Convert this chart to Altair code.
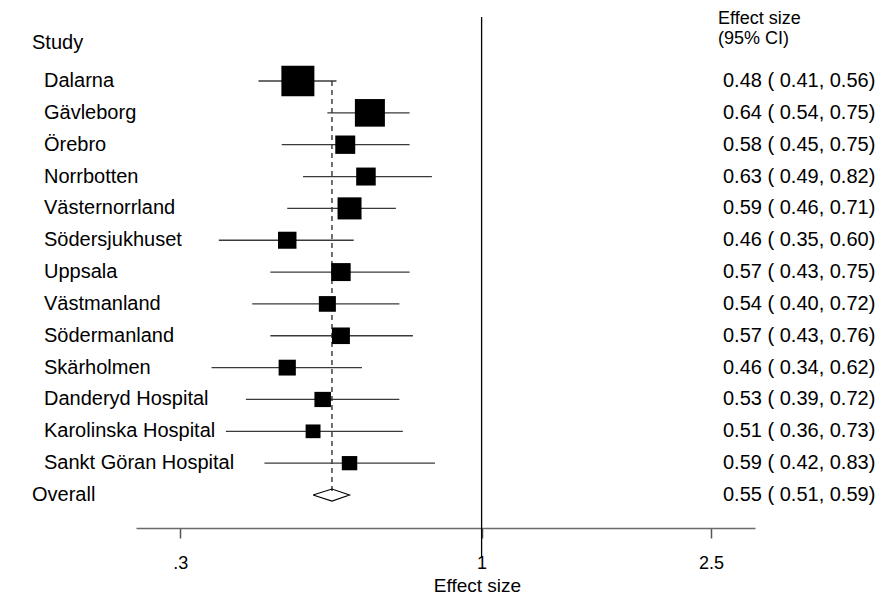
import altair as alt
import pandas as pd

# ---- data ----
studies = ["Dalarna", "Gävleborg", "Örebro", "Norrbotten", "Västernorrland",
           "Södersjukhuset", "Uppsala", "Västmanland", "Södermanland",
           "Skärholmen", "Danderyd Hospital", "Karolinska Hospital",
           "Sankt Göran Hospital"]
est = [0.48, 0.64, 0.58, 0.63, 0.59, 0.46, 0.57, 0.54, 0.57, 0.46, 0.53, 0.51, 0.59]
lo = [0.41, 0.54, 0.45, 0.49, 0.46, 0.35, 0.43, 0.40, 0.43, 0.34, 0.39, 0.36, 0.42]
hi = [0.56, 0.75, 0.75, 0.82, 0.71, 0.60, 0.75, 0.72, 0.76, 0.62, 0.72, 0.73, 0.83]
weights = [19.1, 15.8, 7.0, 6.7, 10.1, 6.0, 6.7, 5.1, 5.7, 5.2, 4.8, 3.9, 4.2]
overall_label = "Overall"
overall_est, overall_lo, overall_hi = 0.55, 0.51, 0.59
tick_values = [0.3, 1, 2.5]
tick_labels = [".3", "1", "2.5"]
null_value = [1]
header_left = "Study"
header_right = ["Effect size", "(95% CI)"]

FONT = "Liberation Sans"
n = len(studies)
rows = list(range(1, n + 1))
overall_row = n + 1

df = pd.DataFrame({"study": studies, "est": est, "lo": lo, "hi": hi,
                   "w": weights, "row": rows})
df["ci"] = [f"{e:.2f} ( {l:.2f}, {h:.2f})" for e, l, h in zip(est, lo, hi)]

ov = pd.DataFrame({"study": [overall_label], "est": [overall_est],
                   "lo": [overall_lo], "hi": [overall_hi], "row": [overall_row]})
ov["ci"] = [f"{overall_est:.2f} ( {overall_lo:.2f}, {overall_hi:.2f})"]

half_h = 0.19
diamond = pd.DataFrame({
    "x": [overall_lo, overall_est, overall_hi, overall_est, overall_lo],
    "row": [overall_row, overall_row - half_h, overall_row, overall_row + half_h, overall_row],
    "o": [0, 1, 2, 3, 4],
})

dash = pd.DataFrame({"x": [overall_est], "r1": [1], "r2": [overall_row]})
null_df = pd.DataFrame({"x": null_value})

label_expr = " : ".join(
    f"datum.value == {v} ? '{t}'" for v, t in zip(tick_values, tick_labels)
) + " : ''"

xscale = alt.Scale(type="log", domain=[0.2514, 2.981], nice=False)
yscale = alt.Scale(domain=[-1.2923, 15.036], reverse=True, nice=False, zero=False)

xaxis = alt.Axis(values=tick_values, labelExpr=label_expr, tickSize=10,
                 tickColor="#555", tickWidth=1.5, domainColor="#6a6a6a",
                 domainWidth=1.6, labelFontSize=18, labelColor="black",
                 labelFont=FONT, labelPadding=16, labelFlush=False,
                 title="Effect size", titleFont=FONT, titleFontSize=19,
                 titleFontWeight="normal", titleColor="black",
                 titleBaseline="alphabetic", titleY=63, titleX=341,
                 titleAlign="center", grid=False)

X = lambda f: alt.X(f, type="quantitative", scale=xscale, axis=xaxis)
Y = lambda f: alt.Y(f, type="quantitative", scale=yscale, axis=None)

null_line = alt.Chart(null_df).mark_rule(color="black", strokeWidth=1.3).encode(
    x=X("x"), y=alt.value(9), y2=alt.value(549))

ci_lines = alt.Chart(df).mark_rule(color="#3a3a3a", strokeWidth=1.3).encode(
    x=X("lo"), x2="hi", y=Y("row"))

dash_line = alt.Chart(dash).mark_rule(color="#333", strokeWidth=1.4,
                                      strokeDash=[5, 4]).encode(
    x=X("x"), y=Y("r1"), y2="r2")

squares = alt.Chart(df).mark_point(
    filled=True, opacity=1, color="black", strokeWidth=0,
    shape="M-1,-0.92L1,-0.92L1,0.92L-1,0.92Z").encode(
    x=X("est"), y=Y("row"),
    size=alt.Size("w", type="quantitative",
                  scale=alt.Scale(domain=[0, 20], range=[0, 1140]), legend=None))

diamond_line = alt.Chart(diamond).mark_line(color="black", strokeWidth=1.1).encode(
    x=X("x"), y=Y("row"), order="o")

text_common = dict(font=FONT, fontSize=20, color="black", baseline="middle", align="left")

study_text = alt.Chart(df).mark_text(**text_common).encode(
    x=alt.value(-92), y=Y("row"), text="study")
overall_text = alt.Chart(ov).mark_text(**text_common).encode(
    x=alt.value(-104), y=Y("row"), text="study")
ci_text = alt.Chart(df).mark_text(**text_common).encode(
    x=alt.value(587), y=Y("row"), text="ci")
ov_ci_text = alt.Chart(ov).mark_text(**text_common).encode(
    x=alt.value(587), y=Y("row"), text="ci")

study_hdr = alt.Chart(pd.DataFrame({"t": [header_left]})).mark_text(**text_common).encode(
    x=alt.value(-104), y=alt.value(35), text="t")

hdr_style = dict(font=FONT, fontSize=18, color="black", baseline="middle", align="left")
es_hdr1 = alt.Chart(pd.DataFrame({"t": [header_right[0]]})).mark_text(**hdr_style).encode(
    x=alt.value(582), y=alt.value(11), text="t")
es_hdr2 = alt.Chart(pd.DataFrame({"t": [header_right[1]]})).mark_text(**hdr_style).encode(
    x=alt.value(582), y=alt.value(31), text="t")

chart = alt.layer(
    null_line, ci_lines, dash_line, squares, diamond_line,
    study_text, overall_text, ci_text, ov_ci_text, study_hdr, es_hdr1, es_hdr2
).properties(
    width=619, height=520, autosize="none",
    padding={"left": 128, "top": 0, "right": 122, "bottom": 68},
    background="white",
).configure_view(stroke=None)

chart.save("out.html", embed_options={"renderer": "svg", "actions": False})
